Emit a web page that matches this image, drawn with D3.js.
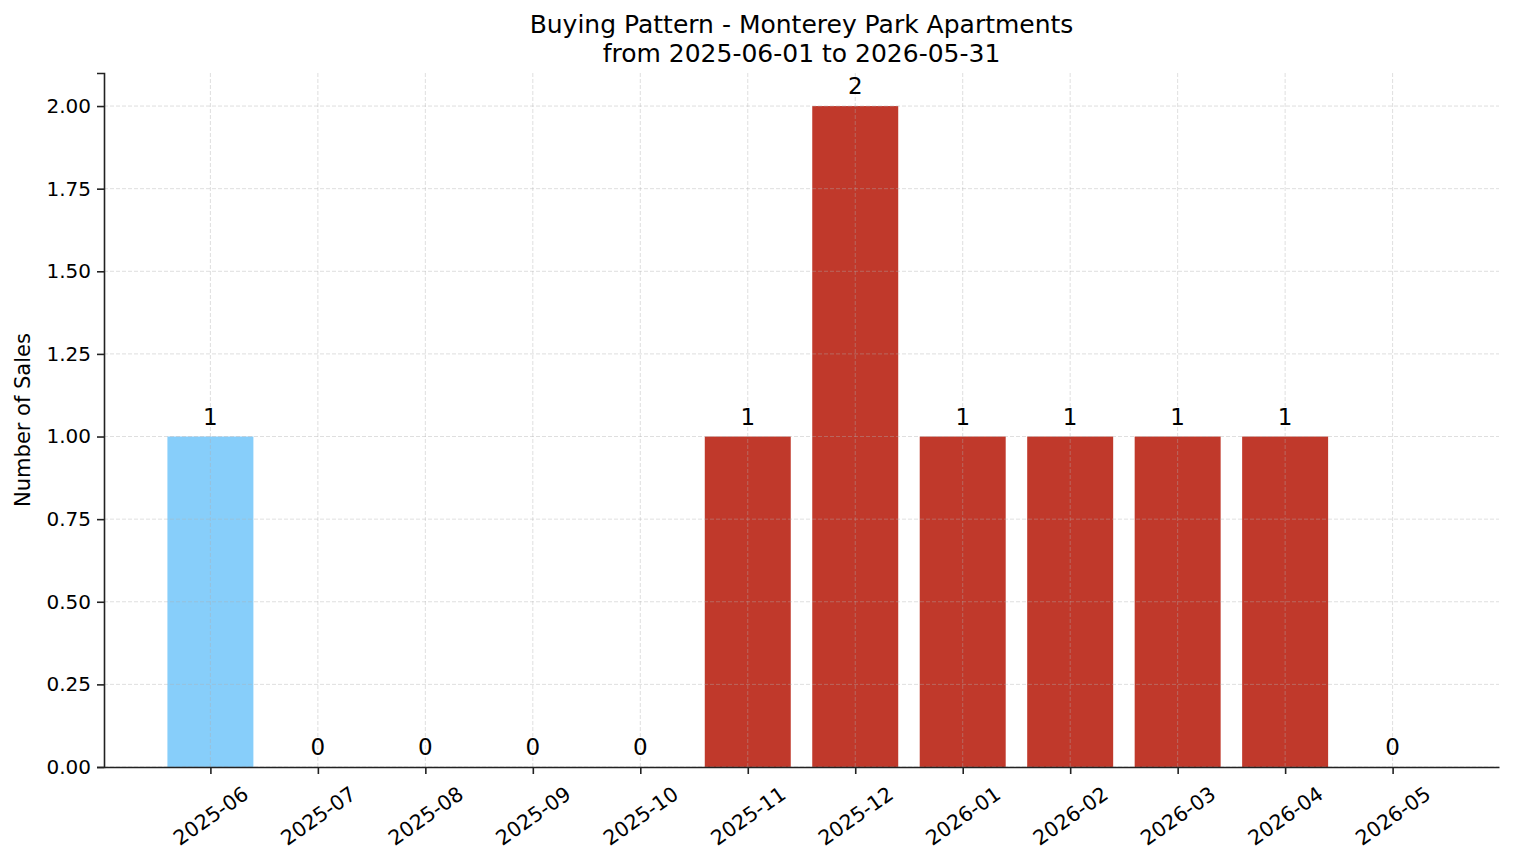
<!DOCTYPE html>
<html>
<head>
<meta charset="utf-8">
<script src="https://cdn.jsdelivr.net/npm/d3@7"></script>
<style>
  body { margin: 0; background: #fff; }
  svg { display: block; font-family: "DejaVu Sans", sans-serif; }
</style>
</head>
<body>
<div id="chart"></div>
<script>
// data
const months = ["2025-06", "2025-07", "2025-08", "2025-09", "2025-10", "2025-11",
                "2025-12", "2026-01", "2026-02", "2026-03", "2026-04", "2026-05"];
const sales = [1, 0, 0, 0, 0, 1, 2, 1, 1, 1, 1, 0];
const barKind = ["past", "past", "past", "past", "past", "recent",
                 "recent", "recent", "recent", "recent", "recent", "recent"];
const yTicks = [0, 0.25, 0.5, 0.75, 1.0, 1.25, 1.5, 1.75, 2.0];
const titleLines = ["Buying Pattern - Monterey Park Apartments", "from 2025-06-01 to 2026-05-31"];

const W = 1514, H = 863;
const margin = {top: 73, right: 15, bottom: 96, left: 104};
const width = W - margin.left - margin.right,
      height = H - margin.top - margin.bottom;

const svg = d3.select("#chart").append("svg")
    .attr("width", W)
    .attr("height", H);

const g = svg.append("g")
    .attr("transform", "translate(" + margin.left + "," + margin.top + ")");

// matplotlib-like bar positions: index scale with 5% margins
const barW = 0.8;
const lo = -barW / 2, hi = months.length - 1 + barW / 2;
const pad = (hi - lo) * 0.05;
const x = d3.scaleLinear()
    .domain([lo - pad, hi + pad])
    .range([0, width]);

const y = d3.scaleLinear()
    .domain([0, 2.1])
    .range([height, 0]);

const colors = {past: "#87cefa", recent: "#c0392b"};

// bars
g.selectAll("rect.bar")
    .data(sales)
    .enter()
    .append("rect")
        .attr("class", "bar")
        .attr("x", (d, i) => x(i - barW / 2))
        .attr("width", x(barW) - x(0))
        .attr("y", d => y(d))
        .attr("height", d => height - y(d))
        .attr("fill", (d, i) => colors[barKind[i]]);

// grid, drawn on top like the original
const grid = g.append("g").attr("class", "grid");
grid.selectAll("line.gy")
    .data(yTicks)
    .enter()
    .append("line")
        .attr("x1", 0).attr("x2", width)
        .attr("y1", d => y(d)).attr("y2", d => y(d));
grid.selectAll("line.gx")
    .data(months)
    .enter()
    .append("line")
        .attr("x1", (d, i) => x(i)).attr("x2", (d, i) => x(i))
        .attr("y1", 0).attr("y2", height);
grid.selectAll("line")
    .attr("stroke", "#b0b0b0")
    .attr("stroke-opacity", 0.5)
    .attr("stroke-width", 0.8)
    .attr("stroke-dasharray", "4,2");

// value labels
g.selectAll("text.val")
    .data(sales)
    .enter()
    .append("text")
        .attr("class", "val")
        .attr("x", (d, i) => x(i))
        .attr("y", d => y(d) - 12)
        .attr("text-anchor", "middle")
        .attr("font-size", "23px")
        .attr("fill", "#000")
        .text(d => d);

// y axis
const yAxis = g.append("g")
    .call(d3.axisLeft(y).tickValues(yTicks).tickFormat(d3.format(".2f")).tickSize(7).tickPadding(6));
yAxis.select(".domain").attr("stroke", "#222").attr("stroke-width", 1.6);
yAxis.selectAll(".tick line").attr("stroke", "#222").attr("stroke-width", 1.6);
yAxis.selectAll(".tick text").attr("font-size", "20px").attr("fill", "#000")
    .attr("font-family", "DejaVu Sans, sans-serif");

// x axis
const xAxis = g.append("g")
    .attr("transform", "translate(0," + height + ")")
    .call(d3.axisBottom(x).tickValues(d3.range(months.length)).tickFormat(i => months[i]).tickSize(7).tickSizeOuter(0));
xAxis.select(".domain").attr("stroke", "#222").attr("stroke-width", 1.6);
xAxis.selectAll(".tick line").attr("stroke", "#222").attr("stroke-width", 1.6);
xAxis.selectAll(".tick text")
    .attr("font-size", "20.5px")
    .attr("fill", "#000")
    .attr("font-family", "DejaVu Sans, sans-serif")
    .attr("text-anchor", "middle")
    .attr("dy", null)
    .attr("dominant-baseline", "central")
    .attr("y", 0)
    .attr("transform", "translate(0,49) rotate(-35)");

// y label
svg.append("text")
    .attr("transform", "translate(23," + (margin.top + height / 2) + ") rotate(-90)")
    .attr("text-anchor", "middle")
    .attr("dominant-baseline", "central")
    .attr("font-size", "21px")
    .text("Number of Sales");

// title
svg.append("g").selectAll("text")
    .data(titleLines)
    .enter()
    .append("text")
        .attr("x", margin.left + width / 2)
        .attr("y", (d, i) => 33 + i * 29)
        .attr("text-anchor", "middle")
        .attr("font-size", "25px")
        .text(d => d);
</script>
</body>
</html>
